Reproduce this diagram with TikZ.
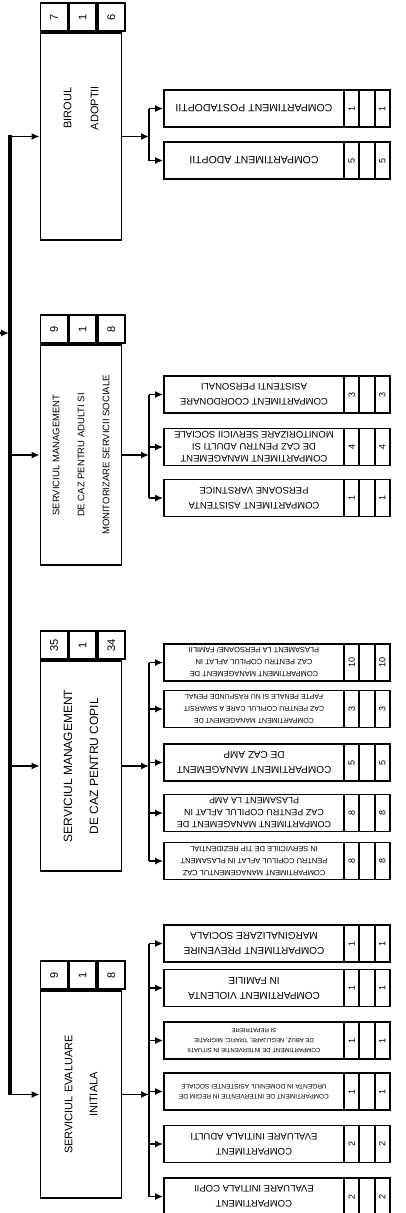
\documentclass[tikz,border=0pt]{standalone}
\usepackage{fontspec}
\setmainfont{Liberation Sans}
\usetikzlibrary{arrows.meta}

\begin{document}
\begin{tikzpicture}[x=1pt,y=-1pt,
    unitbox/.style={draw,line width=1.7pt,minimum width=81pt,inner sep=0pt},
    headcell/.style={draw,line width=1.7pt,minimum width=27pt,minimum height=28pt,inner sep=0pt,font=\fontsize{11}{13}\selectfont},
    compbox/.style={draw,line width=1.7pt,minimum width=180pt,minimum height=37pt,inner sep=0pt},
    numcell/.style={draw,line width=1.7pt,minimum width=15.33pt,minimum height=37pt,inner sep=0pt,font=\fontsize{9}{11}\selectfont},
    unitlabel/.style={rotate=90,align=center,inner sep=0pt},
    complabel/.style={rotate=180,align=center,inner sep=0pt},
    link/.style={-{Latex[length=8pt,width=7pt]},line width=1.7pt}]
    \useasboundingbox (0,0) rectangle (405,1213);

    % main units
    \node[unitbox,minimum height=207pt] (adopt) at (81,136.5) {};
    \node[unitbox,minimum height=220pt] (adult) at (81,455) {};
    \node[unitbox,minimum height=210pt] (copil) at (81,766) {};
    \node[unitbox,minimum height=207pt] (eval) at (81,1094.5) {};

    \foreach \u/\a/\b/\c in {adopt/7/1/6, adult/9/1/8, copil/35/1/34, eval/9/1/8}{
        \node[headcell,anchor=south west] (\u-a) at (\u.north west) {\rotatebox{90}{\a}};
        \node[headcell,anchor=south west] (\u-b) at (\u-a.south east) {\rotatebox{90}{\b}};
        \node[headcell,anchor=south west] (\u-c) at (\u-b.south east) {\rotatebox{90}{\c}};
    }

    \node[unitlabel,font=\fontsize{11}{27}\selectfont] (adopt-l) at (81,108) {BIROUL\\ADOPTII};
    \node[unitlabel,font=\fontsize{9.5}{25}\selectfont] (adult-l) at (adult) {SERVICIUL MANAGEMENT\\DE CAZ PENTRU ADULTI SI\\MONITORIZARE SERVICII SOCIALE};
    \node[unitlabel,font=\fontsize{12}{26}\selectfont] (copil-l) at (copil) {SERVICIUL MANAGEMENT\\DE CAZ PENTRU COPIL};
    \node[unitlabel,font=\fontsize{11}{25}\selectfont] (eval-l) at (eval) {SERVICIUL EVALUARE\\INITIALA};

    % spine
    \coordinate (spinetop) at (10,135);
    \coordinate (spinebot) at (10,1094.5);
    \coordinate (parent) at (-6,333);
    \coordinate (branch) at (149,0);
    \draw[line width=4pt] (spinetop) -- (spinebot);
    \draw[link,shorten >=1pt] (parent) -- (parent -| spinetop);
    \foreach \u in {adopt,adult,copil,eval}
        \draw[link] (spinetop |- \u.west) -- (\u.west);

    % compartments
    \foreach \nm/\yy/\fs/\ls/\txt/\nr in {
        postad/108.5/10.5/15/{COMPARTIMENT POSTADOPTII}/1,
        adoptii/160.5/10.5/15/{COMPARTIMENT ADOPTII}/5,
        coord/394.5/9.5/15/{COMPARTIMENT COORDONARE\\ASISTENTI PERSONALI}/3,
        monit/447/9.5/12/{COMPARTIMENT MANAGEMENT\\DE CAZ PENTRU ADULTI SI\\MONITORIZARE SERVICII SOCIALE}/4,
        asist/498/9.5/15/{COMPARTIMENT ASISTENTA\\PERSOANE VARSTNICE}/1,
        c1/662.5/7.5/12/{COMPARTIMENT MANAGEMENT DE\\CAZ PENTRU COPILUL AFLAT IN\\PLASAMENT LA PERSOANE/ FAMILII}/10,
        c2/709/7/12/{COMPARTIMENT MANAGEMENT DE\\CAZ PENTRU COPILUL CARE A SAVARSIT\\FAPTE PENALE SI NU RASPUNDE PENAL}/3,
        c3/762.5/10/15/{COMPARTIMENT MANAGEMENT\\DE CAZ AMP}/5,
        c4/813/9/12/{COMPARTIMENT MANAGEMENT DE\\CAZ PENTRU COPILUL AFLAT IN\\PLASAMENT LA AMP}/8,
        c5/861/7.5/12/{COMPARTIMENT MANAGEMENTUL CAZ\\PENTRU COPILUL AFLAT IN PLASAMENT\\IN SERVICIILE DE TIP REZIDENTIAL}/8,
        e1/943.5/10/15/{COMPARTIMENT PREVENIRE\\MARGINALIZARE SOCIALA}/1,
        e2/988/10/15/{COMPARTIMENT VIOLENTA\\IN FAMILIE}/1,
        e3/1040.5/6/10/{COMPARTIMENT DE INTERVENTIE IN SITUATII\\DE ABUZ, NEGLIJARE, TRAFIC, MIGRATIE\\SI REPATRIERE}/1,
        e4/1091.5/6.5/10/{COMPARTIMENT DE INTERVENTIE IN REGIM DE\\URGENTA IN DOMENIUL ASISTENTEI SOCIALE}/1,
        e5/1144/9.5/15/{COMPARTIMENT\\EVALUARE INITIALA ADULTI}/2,
        e6/1196.5/9.5/15/{COMPARTIMENT\\EVALUARE INITIALA COPII}/2}{
        \node[compbox] (\nm) at (254,\yy) {};
        \node[complabel,font=\fontsize{\fs}{\ls}\selectfont] (\nm-l) at (\nm) {\txt};
        \node[numcell] (\nm-a) at (351.67,\yy) {\rotatebox{90}{\nr}};
        \node[numcell] (\nm-b) at (367,\yy) {};
        \node[numcell] (\nm-c) at (382.33,\yy) {\rotatebox{90}{\nr}};
        \draw[link] (branch |- \nm.west) -- (\nm.west);
    }

    % branches
    \foreach \u/\f/\l in {adopt/postad/adoptii, adult/coord/asist, copil/c1/c5, eval/e1/e6}{
        \draw[link] (\u.east) -- (\u.east -| branch);
        \draw[line width=1.7pt] (branch |- \f.west) -- (branch |- \l.west);
    }
\end{tikzpicture}
\end{document}
